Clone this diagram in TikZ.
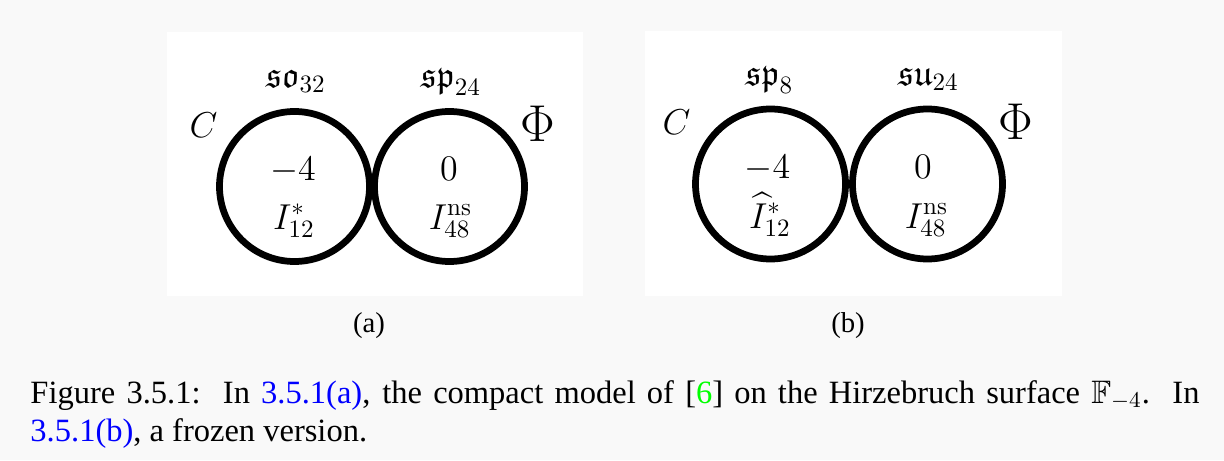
\documentclass[tikz,border=0pt]{standalone}
\usepackage{amsmath,amssymb}
\usepackage[no-math]{fontspec}
\setmainfont{Liberation Serif}
\definecolor{bgc}{RGB}{249,249,249}
\definecolor{linkblue}{RGB}{0,0,255}
\definecolor{citegreen}{RGB}{0,255,0}
\tikzset{
  curve/.style={circle, draw=black, line width=2.7pt, minimum size=60pt, inner sep=0pt},
  lab/.style={inner sep=0pt, anchor=base, font=\fontsize{14.4}{17}\selectfont},
  biglab/.style={inner sep=0pt, anchor=base, font=\fontsize{19.5}{22}\selectfont},
  sublab/.style={inner sep=0pt, anchor=base, font=\fontsize{11.5}{13}\selectfont},
  captext/.style={inner sep=0pt, anchor=base west, font=\fontsize{13}{15.2}\selectfont},
}
\begin{document}
\begin{tikzpicture}[x=0.4pt,y=-0.4pt]
\fill[bgc] (0,0) rectangle (1224,460);
\useasboundingbox (0,0) rectangle (1224,460);
% panels
\fill[white] (167,32) rectangle (583,296);
\fill[white] (645,31) rectangle (1062,296);
% panel (a)
\node[curve] (a1) at (294.5,186.5) {};
\node[curve] (a2) at (449.5,186.5) {};
\node[lab] (aga) at (296,87) {$\mathfrak{so}_{32}$};
\node[lab] (agb) at (451,87) {$\mathfrak{sp}_{24}$};
\node[lab] (aC) at (203.5,137) {$C$};
\node[biglab] (aPhi) at (538,141) {$\Phi$};
\node[lab] (an1) at (293,180) {$-4$};
\node[lab] (an2) at (449,180) {$0$};
\node[lab] (af1) at (294,229) {$I_{12}^{*}$};
\node[lab] (af2) at (450.5,229) {$I_{48}^{\mathrm{ns}}$};
\node[sublab] (suba) at (369,332) {(a)};
% panel (b)
\node[curve] (b1) at (770.5,184) {};
\node[curve] (b2) at (927.5,184) {};
\node[lab] (bga) at (769.5,85) {$\mathfrak{sp}_{8}$};
\node[lab] (bgb) at (928.5,85) {$\mathfrak{su}_{24}$};
\node[lab] (bC) at (676.5,134) {$C$};
\node[biglab] (bPhi) at (1016,139) {$\Phi$};
\node[lab] (bn1) at (767.5,178) {$-4$};
\node[lab] (bn2) at (923,178) {$0$};
\node[lab] (bf1) at (770,228) {$\widehat{I}_{12}^{*}$};
\node[lab] (bf2) at (926.5,228) {$I_{48}^{\mathrm{ns}}$};
\node[sublab] (subb) at (848,332) {(b)};
% caption
\node[captext] (cap1) at (30,403) {\hbox to 467.6pt{Figure 3.5.1:\ \ In \textcolor{linkblue}{3.5.1(a)}, the compact model of [\textcolor{citegreen}{6}] on the Hirzebruch surface $\mathbb{F}_{-4}$.\ \ In}};
\node[captext] (cap2) at (30,441) {\textcolor{linkblue}{3.5.1(b)}, a frozen version.};
\end{tikzpicture}
\end{document}
